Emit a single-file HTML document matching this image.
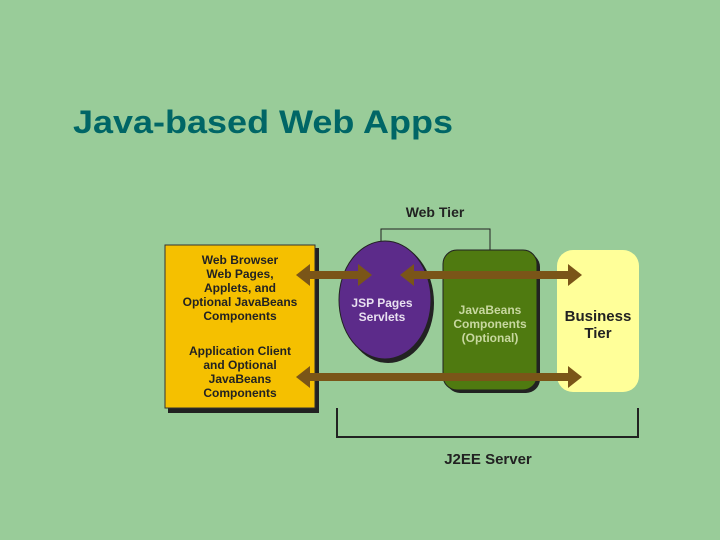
<!DOCTYPE html>
<html><head><style>
body{margin:0;width:720px;height:540px;background:#99cc99;overflow:hidden;font-family:"Liberation Sans",Arial,sans-serif}
</style></head><body>
<svg width="720" height="540" xmlns="http://www.w3.org/2000/svg" style="position:absolute;left:0;top:0">
<text x="73" y="133" font-size="32" font-weight="bold" fill="#006666" font-family="Liberation Sans, sans-serif" textLength="380" lengthAdjust="spacingAndGlyphs">Java-based Web Apps</text>
<g font-family="Liberation Sans, sans-serif" font-weight="bold" text-anchor="middle">
<text x="435" y="217" font-size="14" fill="#222">Web Tier</text>
<polyline points="381,248 381,229 490,229 490,252" fill="none" stroke="#222" stroke-width="1"/>
<rect x="168" y="248" width="151" height="165" fill="#222"/>
<rect x="165" y="245" width="150" height="163" fill="#f5c000" stroke="#333"/>
<rect x="446" y="253" width="94" height="140" rx="14" fill="#222"/>
<rect x="443" y="250" width="94" height="140" rx="14" fill="#4f7a10" stroke="#222"/>
<rect x="557" y="250" width="82" height="142" rx="16" fill="#ffff99"/>
<ellipse cx="388" cy="303" rx="46" ry="60" fill="#222"/>
<ellipse cx="385" cy="300" rx="46" ry="59" fill="#5c2b8a" stroke="#222"/>
<g fill="#7a5518">
<rect x="306" y="271" width="58" height="8"/><polygon points="296,275 310,264 310,286"/><polygon points="372,275 358,264 358,286"/>
<rect x="410" y="271" width="160" height="8"/><polygon points="400,275 414,264 414,286"/><polygon points="582,275 568,264 568,286"/>
<rect x="306" y="373" width="264" height="8"/><polygon points="296,377 310,366 310,388"/><polygon points="582,377 568,366 568,388"/>
</g>
<g font-size="12" fill="#222">
<text x="240" y="264">Web Browser</text><text x="240" y="278">Web Pages,</text><text x="240" y="292">Applets, and</text><text x="240" y="306">Optional JavaBeans</text><text x="240" y="320">Components</text>
<text x="240" y="355">Application Client</text><text x="240" y="369">and Optional</text><text x="240" y="383">JavaBeans</text><text x="240" y="397">Components</text>
</g>
<g font-size="12" fill="#e8e0f0"><text x="382" y="307">JSP Pages</text><text x="382" y="321">Servlets</text></g>
<g font-size="12" fill="#c8d8a0"><text x="490" y="314">JavaBeans</text><text x="490" y="328">Components</text><text x="490" y="342">(Optional)</text></g>
<g font-size="15" fill="#222"><text x="598" y="321">Business</text><text x="598" y="338">Tier</text></g>
<polyline points="337,408 337,437 638,437 638,408" fill="none" stroke="#222" stroke-width="2"/>
<text x="488" y="464" font-size="15" fill="#222">J2EE Server</text>
</g>
</svg>
</body></html>
